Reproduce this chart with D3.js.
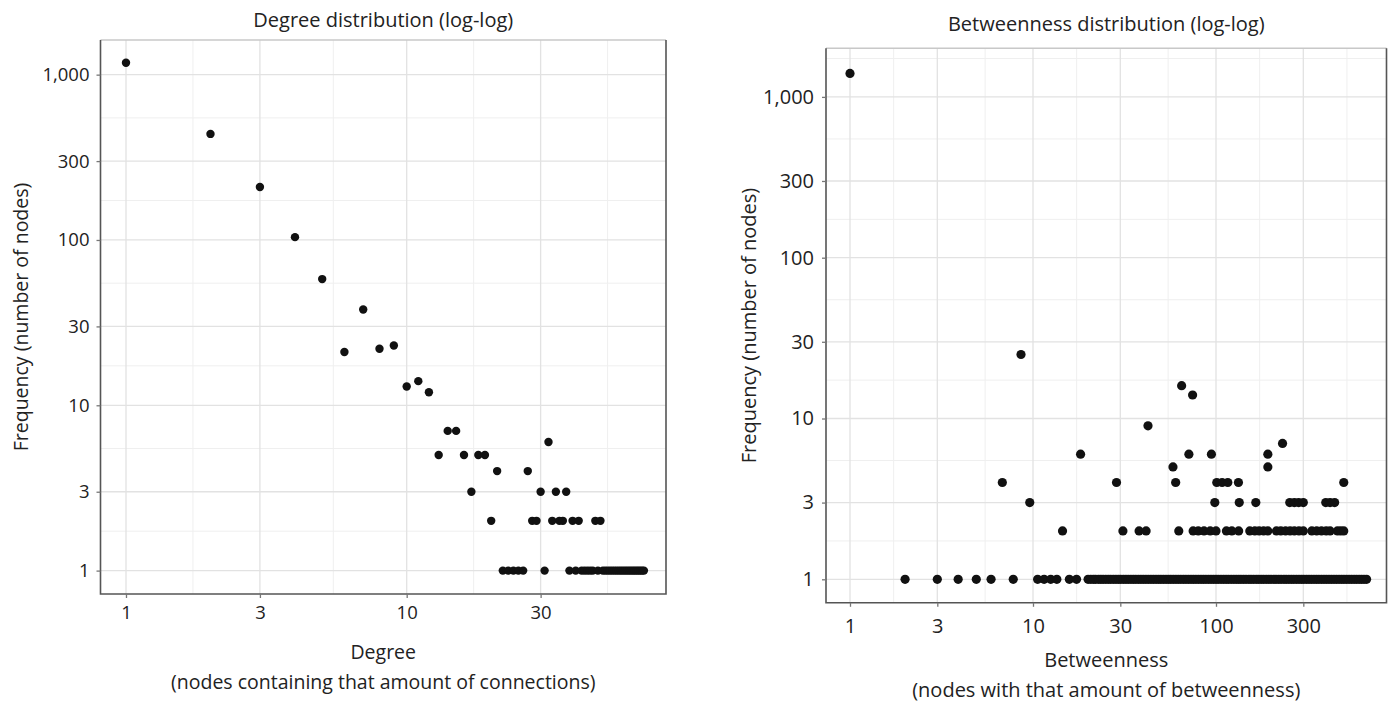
<!DOCTYPE html>
<html>
<head>
<meta charset="utf-8">
<script src="https://cdn.jsdelivr.net/npm/d3@7"></script>
<style>
  body { margin: 0; background: #fff; }
  text { font-family: "Open Sans", sans-serif; fill: #222; }
</style>
</head>
<body>
<svg id="chart" width="1396" height="705"></svg>
<script>
// ---- data ----
// degree distribution: degree -> number of nodes
var degree = [1,2,3,4,5,6,7,8,9,10,11,12,13,14,15,16,17,18,19,20,21,
  22,23,24,25,26,27,28,29,30,31,32,33,34,35,36,37,38,39,40,41,42,43,44,45,46,47,48,49,
  50,51,52,53,54,55,56,57,58,59,60,61,62,63,64,65,66,67,68,69,70];
var degreeFreq = [1180,438,209,104,58,21,38,22,23,13,14,12,5,7,7,5,3,5,5,2,4,
  1,1,1,1,1,4,2,2,3,1,6,2,3,2,2,3,1,2,1,2,1,1,1,1,1,2,1,2,
  1,1,1,1,1,1,1,1,1,1,1,1,1,1,1,1,1,1,1,1,1];

// betweenness distribution, grouped by frequency level
var btwAt1 = [2,3,3.9,4.9,5.9,7.8,10.6,11.5,12.5,13.5,15.8,17.3,
  20,20.7,21.4,22,22.8,23.5,24.2,25,25.8,26.6,27.5,28.4,29.3,30.2,31.2,32.2,33.2,34.3,35.4,
  36.5,37.7,38.9,40.1,41.4,42.7,44.1,45.5,47,48.5,50,51.6,53.3,55,56.7,58.5,60.4,62.3,64.3,
  66.4,68.5,70.7,73,75.3,77.7,80.2,82.8,85.4,88.1,91,93.9,96.9,100,103,106.5,110,113.5,117,
  121,125,129,133,137,141.5,146,151,155.5,160.5,166,171,176.5,182,188,194,200,207,213,220,
  227,235,242,250,258,266,275,284,293,302,312,322,332,343,354,365,377,389,401,414,427,441,
  455,470,485,500,516,533,550,568,586,605,624,644,665];
var btwAt2 = [14.5,31,38,41.5,62.6,75,80,86,93,100,114,122,133,153,163,172,182,192,
  214,226,240,254,268,284,300,334,355,377,400,420,461,480,499];
var btwAt3 = [9.6,98.5,134,165,253,268,283,300,398,420,445];
var btwAt4 = [6.8,28.6,60.2,101,108,116,132.6,499];
var btwAt5 = [58.2,192];
var btwAt6 = [18.2,71.1,94.4,192];
var btwAt7 = [231];
var btwAt9 = [42.5];
var btwAt14 = [74.5];
var btwAt16 = [64.9];
var btwAt25 = [8.6];
var btwAt1400 = [1];

var degreeXTicks = [1, 3, 10, 30];
var btwXTicks = [1, 3, 10, 30, 100, 300];
var freqTicks = [1, 3, 10, 30, 100, 300, 1000];

var degreePoints = degree.map(function(d, i) { return {x: d, y: degreeFreq[i]}; });
var btwPoints = [];
[[1, btwAt1], [2, btwAt2], [3, btwAt3], [4, btwAt4], [5, btwAt5], [6, btwAt6], [7, btwAt7],
 [9, btwAt9], [14, btwAt14], [16, btwAt16], [25, btwAt25], [1400, btwAt1400]]
  .forEach(function(row) {
    row[1].forEach(function(v) { btwPoints.push({x: v, y: row[0]}); });
  });

var svg = d3.select("#chart");
var fmt = d3.format(",");

// ggplot style minor breaks: midpoints of majors in log space (extended one step)
function minorBreaks(ticks) {
  var l = ticks.map(function(t) { return Math.log10(t); });
  var step = l[1] - l[0];
  l = [l[0] - step].concat(l, [l[l.length - 1] + step]);
  var out = [];
  for (var i = 0; i < l.length - 1; i++) out.push(Math.pow(10, (l[i] + l[i + 1]) / 2));
  return out;
}

function label(g, txt, x, y, size, rot) {
  g.append("text")
    .attr("transform", "translate(" + x + "," + y + ")" + (rot ? "rotate(-90)" : ""))
    .attr("text-anchor", "middle")
    .style("font-size", size + "px")
    .text(txt);
}

function drawPanel(p) {
  var x = d3.scaleLog().domain(p.xDom).range([p.left, p.right]);
  var y = d3.scaleLog().domain(p.yDom).range([p.bottom, p.top]);
  var g = svg.append("g");

  // minor grid
  g.selectAll(".mx").data(minorBreaks(p.xTicks).filter(function(v) { return v > p.xDom[0] && v < p.xDom[1]; }))
    .enter().append("line")
    .attr("x1", x).attr("x2", x).attr("y1", p.top).attr("y2", p.bottom)
    .attr("stroke", "#efefef").attr("stroke-width", 1);
  g.selectAll(".my").data(minorBreaks(p.yTicks).filter(function(v) { return v > p.yDom[0] && v < p.yDom[1]; }))
    .enter().append("line")
    .attr("y1", y).attr("y2", y).attr("x1", p.left).attr("x2", p.right)
    .attr("stroke", "#efefef").attr("stroke-width", 1);
  // major grid
  g.selectAll(".gx").data(p.xTicks).enter().append("line")
    .attr("x1", x).attr("x2", x).attr("y1", p.top).attr("y2", p.bottom)
    .attr("stroke", "#e2e2e2").attr("stroke-width", 1.3);
  g.selectAll(".gy").data(p.yTicks).enter().append("line")
    .attr("y1", y).attr("y2", y).attr("x1", p.left).attr("x2", p.right)
    .attr("stroke", "#e2e2e2").attr("stroke-width", 1.3);

  // points
  g.selectAll(".pt").data(p.points).enter().append("circle")
    .attr("cx", function(d) { return x(d.x); })
    .attr("cy", function(d) { return y(d.y); })
    .attr("r", p.r)
    .attr("fill", "#111");

  // border
  g.append("line").attr("x1", p.left).attr("x2", p.right).attr("y1", p.top).attr("y2", p.top)
    .attr("stroke", "#c8c8c8").attr("stroke-width", 1.5);
  g.append("path")
    .attr("d", "M" + p.left + "," + p.top + "V" + p.bottom + "H" + p.right + "V" + p.top)
    .attr("fill", "none").attr("stroke", "#555").attr("stroke-width", 1.6);

  // axes
  var ax = g.append("g").attr("transform", "translate(0," + p.bottom + ")")
    .call(d3.axisBottom(x).tickValues(p.xTicks).tickFormat(fmt).tickSize(4).tickPadding(p.xPad));
  var ay = g.append("g").attr("transform", "translate(" + p.left + ",0)")
    .call(d3.axisLeft(y).tickValues(p.yTicks).tickFormat(fmt).tickSize(4).tickPadding(p.yPad));
  [ax, ay].forEach(function(a) {
    a.select(".domain").remove();
    a.selectAll(".tick line").attr("stroke", "#777").attr("stroke-width", 1.3);
    a.selectAll(".tick text").style("font-size", p.tickSize + "px")
      .style("font-family", "Open Sans, sans-serif").attr("fill", "#222");
  });

  var cx = (p.left + p.right) / 2;
  label(g, p.title, cx, p.titleY, p.titleSize, false);
  label(g, p.xTitle[0], cx, p.xTitleY[0], p.labSize, false);
  label(g, p.xTitle[1], cx, p.xTitleY[1], p.labSize, false);
  label(g, p.yTitle, p.yTitleX, (p.top + p.bottom) / 2, p.labSize, true);
}

drawPanel({
  left: 100.5, right: 666, top: 40, bottom: 594,
  xDom: [Math.pow(10, -0.0908), Math.pow(10, 1.9238)],
  yDom: [Math.pow(10, -0.1415), Math.pow(10, 3.2096)],
  xTicks: degreeXTicks, yTicks: freqTicks,
  points: degreePoints, r: 4.2,
  title: "Degree distribution (log-log)", titleY: 27,
  xTitle: ["Degree", "(nodes containing that amount of connections)"], xTitleY: [659, 689],
  yTitle: "Frequency (number of nodes)", yTitleX: 28,
  titleSize: 20, labSize: 19.5, tickSize: 18.5, xPad: 8, yPad: 7
});

drawPanel({
  left: 826, right: 1386.5, top: 48.3, bottom: 602.8,
  xDom: [Math.pow(10, -0.1311), Math.pow(10, 2.9317)],
  yDom: [Math.pow(10, -0.1461), Math.pow(10, 3.3022)],
  xTicks: btwXTicks, yTicks: freqTicks,
  points: btwPoints, r: 4.6,
  title: "Betweenness distribution (log-log)", titleY: 31,
  xTitle: ["Betweenness", "(nodes with that amount of betweenness)"], xTitleY: [667, 697],
  yTitle: "Frequency (number of nodes)", yTitleX: 756,
  titleSize: 20, labSize: 20, tickSize: 20, xPad: 12, yPad: 8
});
</script>
</body>
</html>
